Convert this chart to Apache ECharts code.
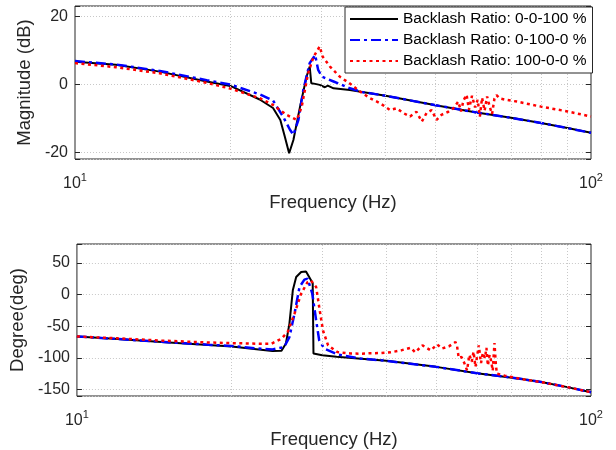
<!DOCTYPE html>
<html>
<head>
<meta charset="utf-8">
<script src="https://cdn.jsdelivr.net/npm/echarts@6/dist/echarts.min.js"></script>
<style>
  html, body { margin: 0; padding: 0; background: #fff; }
  #chart { width: 616px; height: 450px; }
</style>
</head>
<body>
<div id="chart"></div>
<script>
// 图例名称
const seriesNames = ['Backlash Ratio: 0-0-100 %', 'Backlash Ratio: 0-100-0 %', 'Backlash Ratio: 100-0-0 %'];
// x 轴次网格 (Hz)
const minorTicks = [20, 30, 40, 50, 60, 70, 80, 90];

// 幅值 (dB)
const magFreqBlack = [10, 12, 14.6, 18, 20, 22.8, 24.2, 25, 25.5, 26, 26.5, 27.3, 28.1, 28.5, 28.7, 29.2, 29.8, 30.5, 30.9, 31.7, 34.1, 40, 50, 60, 70, 80, 90, 100];
const magBlack = [6.6, 5.7, 3.7, 0.8, -0.5, -4.5, -7.0, -10.5, -15.4, -20.3, -16.4, -6.6, 2.2, 5.2, 0.3, 0.1, -0.2, -0.9, -0.4, -1.2, -1.7, -3.4, -6.2, -8.3, -9.9, -11.4, -12.9, -14.3];
const magFreqBlue = [10, 12, 14.6, 18, 20, 22.8, 24.2, 25.3, 26.1, 26.5, 27.1, 27.7, 28.5, 29.2, 29.6, 30.1, 31.7, 34.1, 36, 40, 50, 60, 70, 80, 90, 100];
const magBlue = [6.8, 5.8, 3.9, 1.2, -0.1, -3.0, -4.8, -9.5, -13.4, -14.9, -10.5, -1.7, 6.2, 8.6, 4.2, 2.2, 0.8, -1.2, -2.3, -3.4, -6.2, -8.3, -9.9, -11.4, -12.9, -14.3];
const magFreqRed = [10, 12, 14.6, 18, 20, 22.8, 24.2, 25.7, 26.9, 27.5, 28.3, 29, 29.8, 30.2, 31.2, 32.6, 34.1, 35.7, 37.3, 39, 40.8, 42, 43.3, 44.6, 45.9, 47, 48, 49.1, 50.2, 51.3, 52.9, 54.1, 55.3, 56, 56.6, 57.4, 58, 58.8, 59.6, 60.3, 60.9, 61.5, 62.2, 62.9, 63.6, 64.3, 65, 65.6, 66.6, 68.5, 71.8, 80, 90, 100];
const magRed = [6.2, 5.0, 3.2, 0.4, -1.3, -4.1, -6.1, -9.0, -10.5, -6.6, 3.2, 8.1, 11.1, 8.1, 5.2, 2.2, 0.2, -2.2, -4.1, -5.6, -7.6, -7.1, -8.5, -9.5, -8.1, -11, -8.5, -7.6, -10.5, -9.0, -8.1, -7.1, -5.1, -8.0, -4.8, -3.1, -7.5, -3.4, -6.8, -4.6, -9.5, -4.0, -7.8, -3.6, -6.5, -8.8, -4.2, -3.2, -4.2, -4.6, -5.1, -6.6, -8.0, -9.5];

// 相位 (deg)
const phFreqBlack = [10, 12, 14.6, 18, 20, 22.8, 24, 25, 25.5, 25.9, 26.3, 26.7, 27.3, 27.9, 28.3, 28.75, 28.85, 30, 32, 35.7, 40, 50, 60, 72.7, 80, 90, 100];
const phBlack = [-66, -70, -74.8, -79.5, -81.7, -86.9, -89, -88.5, -77, -46, 6.8, 27.8, 35.7, 36.5, 27.8, 18, -93, -95.5, -98, -101, -104.5, -114, -124, -132.7, -138, -146, -154];
const phFreqBlue = [10, 12, 14.6, 18, 20, 22.8, 24, 25.3, 25.9, 26.5, 27.1, 27.7, 28.1, 28.7, 29.2, 29.6, 30.3, 32.1, 35.7, 40, 50, 60, 72.7, 80, 90, 100];
const phBlue = [-66, -70, -74.5, -79, -81, -85.5, -86.5, -82.7, -67, -30, 12, 23.7, 25.3, 1.5, -40.6, -72.2, -85.3, -94.3, -101, -104.5, -114, -124, -132.7, -138, -146, -154];
const phFreqRed = [10, 12, 14.6, 18, 20, 22.8, 23.9, 25, 25.7, 26.5, 27.3, 28.1, 28.5, 29.2, 29.6, 30.1, 30.8, 32.1, 34.1, 35.7, 37.3, 39, 40.8, 42.7, 44.6, 45.5, 47, 48.8, 50.2, 51.3, 52.9, 54.5, 54.9, 55.3, 56, 56.7, 57.4, 58, 58.6, 59.1, 59.6, 60.5, 61.1, 61.6, 62.2, 62.6, 63, 63.5, 63.9, 64.4, 64.9, 65.3, 65.6, 68, 72.7, 80, 90, 100];
const phRed = [-66, -69, -72.5, -75.5, -76.5, -77.5, -77.4, -69.5, -59, -30, 1.5, 20, 22.6, 12, -19.6, -56.4, -80, -90.6, -93, -93.2, -92.5, -92.2, -91, -88, -83.8, -91, -80, -88, -78.6, -85, -81.7, -74.8, -82, -100, -98.5, -108, -119.6, -95, -106, -90, -114, -80, -108, -92, -100, -84, -112, -95, -104, -120, -76.4, -110, -124.8, -128, -132.7, -138, -146, -154];

const FONT = "'Liberation Sans', Arial, Helvetica, sans-serif";
const AXIS_COLOR = '#262626';

function zip(fs, vs) {
  return fs.map((f, i) => [f, vs[i]]);
}

// 三条曲线的样式
const styles = [
  { color: '#000000', width: 2, type: 'solid' },
  { color: '#0000ff', width: 2.5, type: [10, 4, 3, 4] },
  { color: '#ff0000', width: 2.5, type: [3, 3.5] }
];

function curve(idx, gridIdx, data) {
  const s = styles[idx];
  return {
    name: seriesNames[idx],
    type: 'line',
    xAxisIndex: gridIdx,
    yAxisIndex: gridIdx * 2,
    data: data,
    symbol: 'none',
    smooth: false,
    lineStyle: { color: s.color, width: s.width, type: s.type, cap: 'butt' },
    itemStyle: { color: s.color },
    emphasis: { disabled: true },
    z: 3 + idx
  };
}

// 用 markLine 画 20..90 Hz 的点状网格线
function minorGrid(gridIdx) {
  return {
    type: 'line',
    xAxisIndex: gridIdx,
    yAxisIndex: gridIdx * 2,
    data: [],
    silent: true,
    z: 1,
    markLine: {
      silent: true,
      symbol: 'none',
      label: { show: false },
      animation: false,
      lineStyle: { color: '#c8c8c8', width: 1, type: [1, 2] },
      data: minorTicks.map(v => ({ xAxis: v }))
    }
  };
}

function xAxis(gridIdx) {
  return {
    type: 'log',
    logBase: 10,
    gridIndex: gridIdx,
    min: 10,
    max: 100,
    name: 'Frequency (Hz)',
    nameLocation: 'middle',
    nameGap: 34,
    nameTextStyle: { fontFamily: FONT, fontSize: 18.5, color: AXIS_COLOR },
    axisLine: { show: false },
    axisTick: { show: false },
    splitLine: { show: false },
    axisLabel: {
      margin: 13,
      formatter: v => '{b|10}{s|' + Math.round(Math.log10(v)) + '}',
      rich: {
        b: { fontFamily: FONT, fontSize: 16, color: AXIS_COLOR, verticalAlign: 'bottom', lineHeight: 20 },
        s: { fontFamily: FONT, fontSize: 11, color: AXIS_COLOR, verticalAlign: 'top', lineHeight: 20 }
      }
    }
  };
}

function yAxes(gridIdx, name, min, max, split, step, gap) {
  const left = {
    type: 'value',
    gridIndex: gridIdx,
    min: min,
    max: max,
    splitNumber: split,
    name: name,
    nameLocation: 'middle',
    nameGap: gap,
    nameTextStyle: { fontFamily: FONT, fontSize: 18.5, color: AXIS_COLOR },
    axisLine: { show: false },
    axisTick: { show: true, inside: true, length: 5, lineStyle: { color: AXIS_COLOR } },
    splitLine: { show: true, lineStyle: { color: '#c8c8c8', width: 1, type: [1, 2] } },
    axisLabel: {
      margin: 7,
      fontFamily: FONT,
      fontSize: 16,
      color: AXIS_COLOR,
      formatter: v => (Math.abs(v % step) < 1e-9 ? String(v) : '')
    }
  };
  const right = {
    type: 'value',
    gridIndex: gridIdx,
    position: 'right',
    min: min,
    max: max,
    splitNumber: split,
    axisLine: { show: false },
    axisTick: { show: true, inside: true, length: 5, lineStyle: { color: AXIS_COLOR } },
    splitLine: { show: false },
    axisLabel: { show: false }
  };
  return [left, right];
}

const chart = echarts.init(document.getElementById('chart'), null, { renderer: 'canvas' });

chart.setOption({
  animation: false,
  backgroundColor: '#ffffff',
  grid: [
    { left: 75, top: 6, width: 516, height: 153, show: true, borderColor: AXIS_COLOR, borderWidth: 1, backgroundColor: '#fff' },
    { left: 75, top: 244, width: 516, height: 152, show: true, borderColor: AXIS_COLOR, borderWidth: 1, backgroundColor: '#fff' }
  ],
  legend: {
    data: seriesNames,
    orient: 'vertical',
    left: 345,
    top: 7,
    itemWidth: 48,
    itemHeight: 14,
    itemGap: 5,
    padding: [4, 6, 4, 4],
    backgroundColor: '#ffffff',
    borderColor: AXIS_COLOR,
    borderWidth: 1,
    borderRadius: 0,
    selectedMode: false,
    itemStyle: { opacity: 0 },
    textStyle: { fontFamily: FONT, fontSize: 15.5, color: '#000' },
    z: 10
  },
  xAxis: [xAxis(0), xAxis(1)],
  yAxis: [
    ...yAxes(0, 'Magnitude (dB)', -22, 23, 2, 20, 38),
    ...yAxes(1, 'Degree(deg)', -160, 80, 5, 50, 48)
  ],
  series: [
    minorGrid(0),
    minorGrid(1),
    curve(0, 0, zip(magFreqBlack, magBlack)),
    curve(1, 0, zip(magFreqBlue, magBlue)),
    curve(2, 0, zip(magFreqRed, magRed)),
    curve(0, 1, zip(phFreqBlack, phBlack)),
    curve(1, 1, zip(phFreqBlue, phBlue)),
    curve(2, 1, zip(phFreqRed, phRed))
  ]
});
</script>
</body>
</html>
